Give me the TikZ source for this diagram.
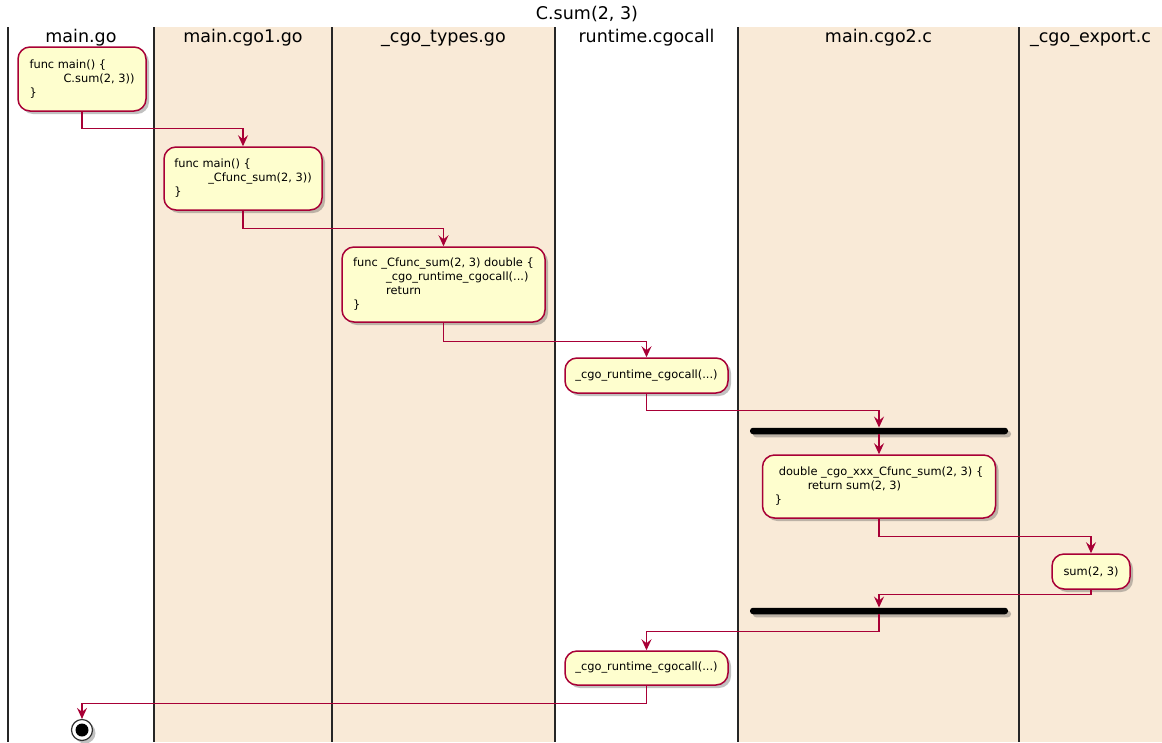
\documentclass[tikz,border=0pt]{standalone}
\usepackage{fontspec}
\setmainfont{DejaVu Sans}
\usetikzlibrary{arrows.meta,shadows}
\definecolor{nodefill}{HTML}{FEFECE}
\definecolor{umlred}{HTML}{A80036}
\definecolor{lanebg}{HTML}{F9EAD7}
\begin{document}
\begin{tikzpicture}[x=1pt,y=-1pt,
  act/.style={draw=umlred, line width=1.5pt, fill=nodefill, rounded corners=12pt,
    inner xsep=10pt, inner ysep=4pt, align=left,
    font=\fontsize{11.4}{14}\selectfont,
    drop shadow={shadow xshift=3pt, shadow yshift=-3pt, opacity=0.35, fill=black!70}},
  syncbar/.style={rectangle, fill=black, minimum width=258pt, minimum height=6.5pt,
    inner sep=0pt, rounded corners=3pt,
    drop shadow={shadow xshift=3pt, shadow yshift=-3pt, opacity=0.35, fill=black!70}},
  lanehead/.style={font=\fontsize{17.5}{20}\selectfont},
  laneline/.style={line width=1.7pt, black!85},
  arr/.style={draw=umlred, line width=1.4pt, -{Stealth[length=11pt,width=10pt,inset=4pt]}},
  stopnode/.style={circle, draw=black!80, line width=1.2pt, fill=white, minimum size=21pt, inner sep=0pt,
    drop shadow={shadow xshift=3pt, shadow yshift=-3pt, opacity=0.35, fill=black!70}}
]
\useasboundingbox (0,0) rectangle (1162,742);
% lane backgrounds
\fill[lanebg] (154,27) rectangle (555,742);
\fill[lanebg] (738,27) rectangle (1162,742);
% lane lines
\foreach \x in {8,154,332,555,738,1019}
  \draw[laneline] (\x,27) -- (\x,742);
% title and headers
\node[lanehead] (title) at (587,14) {C.sum(2, 3)};
\node[lanehead] (h1) at (81,38) {main.go};
\node[lanehead] (h2) at (243,38) {main.cgo1.go};
\node[lanehead] (h3) at (443.5,38) {\_cgo\_types.go};
\node[lanehead] (h4) at (646.5,38) {runtime.cgocall};
\node[lanehead] (h5) at (878.5,38) {main.cgo2.c};
\node[lanehead] (h6) at (1090.5,38) {\_cgo\_export.c};
% activities
\node[act, minimum width=128pt, minimum height=64pt] (n1) at (82,79)
  {func main() \{\\\hspace*{34pt}C.sum(2, 3))\\\}};
\node[act, minimum width=158pt, minimum height=63pt] (n2) at (243,178.5)
  {func main() \{\\\hspace*{34pt}\_Cfunc\_sum(2, 3))\\\}};
\node[act, minimum width=203pt, minimum height=75pt] (n3) at (443.5,284.5)
  {func \_Cfunc\_sum(2, 3) double \{\\\hspace*{33pt}\_cgo\_runtime\_cgocall(...)\\\hspace*{33pt}return\\\}};
\node[act, align=center, minimum width=163pt, minimum height=35pt] (n4) at (646.5,375.5)
  {\_cgo\_runtime\_cgocall(...)};
\node[syncbar] (bar1) at (879,431) {};
\node[act, minimum width=233pt, minimum height=63pt] (n6) at (879,486.5)
  {\hspace*{4pt}double \_cgo\_xxx\_Cfunc\_sum(2, 3) \{\\\hspace*{33pt}return sum(2, 3)\\\}};
\node[act, align=center, minimum width=78pt, minimum height=35pt] (n7) at (1091,571.5)
  {sum(2, 3)};
\node[syncbar] (bar2) at (879,611) {};
\node[act, align=center, minimum width=163pt, minimum height=34pt] (n9) at (646.5,668)
  {\_cgo\_runtime\_cgocall(...)};
\node[stopnode] (stop) at (82,730) {};
\fill[black] (stop.center) circle[radius=6.5pt];
% connectors
\draw[arr] (n1.south) -- ++(0,17) -| (n2.north);
\draw[arr] (n2.south) -- ++(0,18) -| (n3.north);
\draw[arr] (n3.south) -- ++(0,19) -| (n4.north);
\draw[arr] (n4.south) -- ++(0,17) -| (bar1.north);
\draw[arr] (bar1.south) -- (n6.north);
\draw[arr] (n6.south) -- ++(0,18) -| (n7.north);
\draw[arr] (n7.south) -- ++(0,5) -| (bar2.north);
\draw[arr] (bar2.south) -- ++(0,17) -| (n9.north);
\draw[arr] (n9.south) -- ++(0,18) -| (stop.north);
\end{tikzpicture}
\end{document}
